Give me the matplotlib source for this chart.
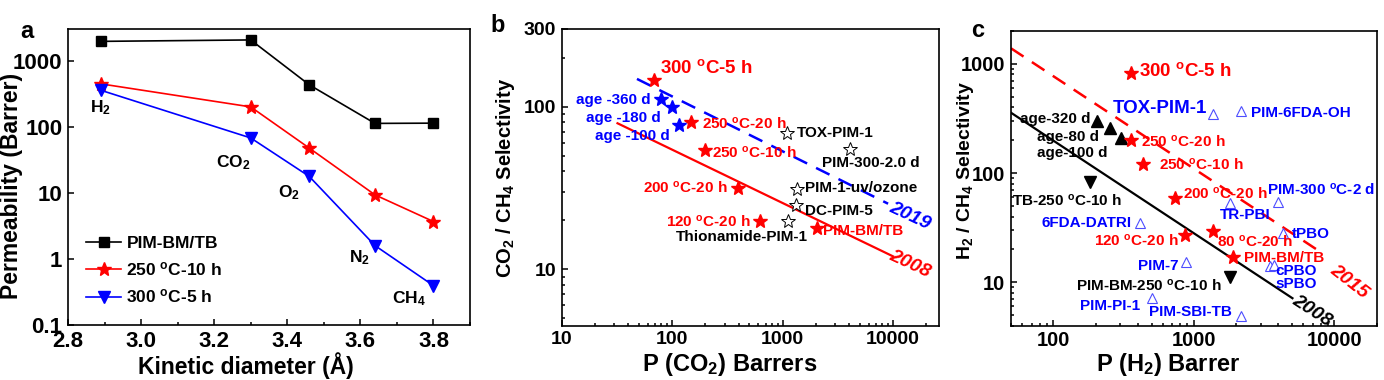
import matplotlib
matplotlib.use('Agg')
import matplotlib.pyplot as plt
from matplotlib.ticker import FixedLocator, LogLocator, FuncFormatter, NullFormatter, NullLocator, MultipleLocator

plt.rcParams['font.family'] = ['Liberation Sans', 'DejaVu Sans']
plt.rcParams['font.weight'] = 'bold'
plt.rcParams['mathtext.fontset'] = 'custom'
plt.rcParams['mathtext.rm'] = 'Liberation Sans:bold'
plt.rcParams['mathtext.it'] = 'Liberation Sans:bold:italic'
plt.rcParams['mathtext.bf'] = 'Liberation Sans:bold'
plt.rcParams['mathtext.default'] = 'regular'
plt.rcParams['axes.linewidth'] = 1.2

# ---------------- data: panel a ----------------
diam = [2.89, 3.30, 3.46, 3.64, 3.80]
gases = ['H$_2$', 'CO$_2$', 'O$_2$', 'N$_2$', 'CH$_4$']
perm_pristine = [1950, 2050, 430, 112, 113]
perm_250_10h = [444, 199, 47.5, 9.3, 3.67]
perm_300_5h = [355, 67.5, 17.7, 1.59, 0.394]
series_a_names = ['PIM-BM/TB', '250 $^{o}$C-10 h', '300 $^{o}$C-5 h']

# ---------------- data: panel b (CO2/CH4) ----------------
b_this_names = ['300 $^{o}$C-5 h', '250 $^{o}$C-20 h', '250 $^{o}$C-10 h',
                '200 $^{o}$C-20 h', '120 $^{o}$C-20 h', 'PIM-BM/TB']
b_this_P = [68, 148, 198, 392, 618, 2040]
b_this_S = [146, 80, 54.3, 31.8, 19.7, 17.9]
b_aged_names = ['age -360 d', 'age -180 d', 'age -100 d']
b_aged_P = [79, 100, 115]
b_aged_S = [111, 99, 77]
b_lit_names = ['TOX-PIM-1', 'PIM-300-2.0 d', 'PIM-1-uv/ozone', 'DC-PIM-5', 'Thionamide-PIM-1']
b_lit_P = [1104, 4060, 1355, 1310, 1126]
b_lit_S = [69.3, 54.8, 31.3, 24.9, 19.7]
b_ub2008_P = [32, 10000]
b_ub2008_S = [79, 12]
b_ub2019_P = [48, 9000]
b_ub2019_S = [148, 25.3]

# ---------------- data: panel c (H2/CH4) ----------------
c_this_names = ['300 $^{o}$C-5 h', '250 $^{o}$C-20 h', '250 $^{o}$C-10 h', '200 $^{o}$C-20 h',
                '120 $^{o}$C-20 h', '80 $^{o}$C-20 h', 'PIM-BM/TB']
c_this_P = [360, 360, 432, 732, 858, 1360, 1900]
c_this_S = [820, 199, 120, 58.5, 27, 29.6, 17.1]
c_aged_names = ['age-320 d', 'age-80 d', 'age-100 d']
c_aged_P = [205, 252, 305]
c_aged_S = [299, 260, 209]
c_tb_names = ['TB-250 $^{o}$C-10 h', 'PIM-BM-250 $^{o}$C-10 h']
c_tb_P = [181, 1800]
c_tb_S = [83, 11.2]
c_lit_names = ['TOX-PIM-1', 'PIM-6FDA-OH', 'PIM-300 $^{o}$C-2 d', 'TR-PBI', '6FDA-DATRI',
               'tPBO', 'PIM-7', 'cPBO', 'sPBO', 'PIM-PI-1', 'PIM-SBI-TB']
c_lit_P = [1360, 2160, 4000, 1815, 416, 4325, 885, 3490, 3720, 505, 2175]
c_lit_S = [349, 367, 53.8, 52.7, 35, 28.4, 15.4, 14.1, 14.4, 7.14, 4.95]
c_ub2008_P = [50, 5030]
c_ub2008_S = [357, 7.14]
c_ub2015_P = [50, 8400]
c_ub2015_S = [1388, 18.1]

RED = '#ff0000'
BLUE = '#0000ff'
LBLUE = '#4d4dff'

W, H = 1384, 380
fig = plt.figure(figsize=(W / 100, H / 100), dpi=100)


def px_axes(l, t, r, b):
    return fig.add_axes([l / W, 1 - b / H, (r - l) / W, (b - t) / H])


def style(ax, size=14):
    ax.tick_params(which='both', direction='in', top=False, right=False, width=1.1,
                   labelsize=size, pad=4)
    ax.tick_params(which='major', length=4.5)
    ax.tick_params(which='minor', length=2.5)
    for lab in ax.get_xticklabels() + ax.get_yticklabels():
        lab.set_fontweight('bold')


def txt(ax, x, y, s, color='black', ha='left', size=11, rot=0):
    ax.text(x, y, s, color=color, ha=ha, va='center', fontsize=size,
            fontweight='bold', rotation=rot)


def labels(ax, xl, yl, xsize, ysize, xpos, ypos):
    ax.set_xlabel(xl, fontsize=xsize, fontweight='bold')
    ax.set_ylabel(yl, fontsize=ysize, fontweight='bold')
    ax.xaxis.set_label_coords(*xpos)
    ax.yaxis.set_label_coords(*ypos)


gfmt = FuncFormatter(lambda v, p: '%g' % v)

# ================= panel a =================
axa = px_axes(68, 29, 470, 325)
axa.plot(diam, perm_pristine, '-s', color='black', lw=1.2, ms=7, label=series_a_names[0])
axa.plot(diam, perm_250_10h, '-*', color=RED, lw=1.2, ms=10, label=series_a_names[1])
axa.plot(diam, perm_300_5h, '-v', color=BLUE, lw=1.2, ms=8, label=series_a_names[2])
axa.set_yscale('log')
axa.set_xlim(2.8, 3.9)
axa.set_ylim(0.1, 3000)
axa.xaxis.set_major_locator(FixedLocator([2.8, 3.0, 3.2, 3.4, 3.6, 3.8]))
axa.xaxis.set_minor_locator(MultipleLocator(0.1))
axa.xaxis.set_major_formatter(FuncFormatter(lambda v, p: '%.1f' % v))
axa.yaxis.set_major_locator(FixedLocator([0.1, 1, 10, 100, 1000]))
axa.yaxis.set_minor_locator(NullLocator())
axa.yaxis.set_major_formatter(gfmt)
style(axa, 16)
labels(axa, 'Kinetic diameter (Å)', 'Permeability (Barrer)', 16.5, 16.5,
       (0.4415, -0.092), (-0.112, 0.47))
gas_label_pos = [(2.888, 194), (3.252, 28.5), (3.405, 10.0), (3.597, 1.03), (3.734, 0.25)]
for g, (gx, gy) in zip(gases, gas_label_pos):
    txt(axa, gx, gy, g, ha='center', size=12.5)
leg = axa.legend(loc='lower left', bbox_to_anchor=(0.02, 0.03), frameon=False, fontsize=12.5,
                 handlelength=2.0, handletextpad=0.3, labelspacing=0.55, borderaxespad=0.2)
for t in leg.get_texts():
    t.set_fontweight('bold')

# ================= panel b =================
axb = px_axes(561.7, 29, 939, 325.7)
axb.set_xscale('log')
axb.set_yscale('log')
axb.set_xlim(10, 26000)
axb.set_ylim(4.5, 300)
axb.plot(b_ub2008_P, b_ub2008_S, '-', color=RED, lw=1.6)
axb.plot(b_ub2019_P, b_ub2019_S, '--', color=BLUE, lw=1.8, dashes=(6, 4))
axb.plot(b_this_P, b_this_S, '*', color=RED, ms=10.5, ls='none')
axb.plot(b_aged_P, b_aged_S, '*', color=BLUE, ms=10.5, ls='none')
axb.plot(b_lit_P, b_lit_S, '*', mfc='white', mec='black', mew=0.7, ms=10.5, ls='none')
axb.xaxis.set_major_locator(FixedLocator([10, 100, 1000, 10000]))
axb.xaxis.set_minor_locator(LogLocator(base=10, subs=range(2, 10)))
axb.xaxis.set_minor_formatter(NullFormatter())
axb.xaxis.set_major_formatter(gfmt)
axb.yaxis.set_major_locator(FixedLocator([10, 100, 300]))
axb.yaxis.set_minor_locator(LogLocator(base=10, subs=range(2, 10)))
axb.yaxis.set_minor_formatter(NullFormatter())
axb.yaxis.set_major_formatter(gfmt)
style(axb, 14)
labels(axb, 'P (CO$_2$) Barrers', 'CO$_2$ / CH$_4$ Selectivity', 17, 14.5,
       (0.4447, -0.085), (-0.118, 0.498))

b_label_pos = {
    '300 $^{o}$C-5 h': (77.6, 172, 'left', 13.5),
    '250 $^{o}$C-20 h': (185, 78.3, 'left', 11),
    '250 $^{o}$C-10 h': (227, 52.2, 'left', 11),
    '200 $^{o}$C-20 h': (315, 31.6, 'right', 11),
    '120 $^{o}$C-20 h': (514, 19.7, 'right', 11),
    'PIM-BM/TB': (2338, 17.1, 'left', 11),
}
for n in b_this_names:
    x, y, ha, sz = b_label_pos[n]
    txt(axb, x, y, n, RED, ha, sz)
b_aged_pos = {'age -360 d': (63.4, 110), 'age -180 d': (78.2, 84.9), 'age -100 d': (96, 66.1)}
for n in b_aged_names:
    x, y = b_aged_pos[n]
    txt(axb, x, y, n, BLUE, 'right', 11)
b_lit_pos = {
    'TOX-PIM-1': (1337, 68.7, 'left'),
    'PIM-300-2.0 d': (2277, 45, 'left'),
    'PIM-1-uv/ozone': (1585, 31.6, 'left'),
    'DC-PIM-5': (1585, 22.7, 'left'),
    'Thionamide-PIM-1': (1675, 15.8, 'right'),
}
for n in b_lit_names:
    x, y, ha = b_lit_pos[n]
    txt(axb, x, y, n, 'black', ha, 11)
axb.text(14060, 10.7, '2008', color=RED, fontsize=14, fontweight='bold', style='italic',
         ha='center', va='center', rotation=-25)
axb.text(14060, 21.1, '2019', color=BLUE, fontsize=14, fontweight='bold', style='italic',
         ha='center', va='center', rotation=-25)

# ================= panel c =================
axc = px_axes(1011, 31, 1376.7, 325.7)
axc.set_xscale('log')
axc.set_yscale('log')
axc.set_xlim(50, 20000)
axc.set_ylim(4, 2000)
axc.plot(c_ub2008_P, c_ub2008_S, '-', color='black', lw=1.6)
axc.plot(c_ub2015_P, c_ub2015_S, '--', color=RED, lw=1.8, dashes=(6, 4))
axc.plot(c_lit_P, c_lit_S, '^', mfc='white', mec=LBLUE, mew=0.8, ms=7, ls='none')
axc.plot(c_aged_P, c_aged_S, '^', color='black', ms=8, ls='none')
axc.plot(c_tb_P, c_tb_S, 'v', color='black', ms=8, ls='none')
axc.plot(c_this_P, c_this_S, '*', color=RED, ms=10.5, ls='none')
axc.xaxis.set_major_locator(FixedLocator([100, 1000, 10000]))
axc.xaxis.set_minor_locator(LogLocator(base=10, subs=range(2, 10)))
axc.xaxis.set_minor_formatter(NullFormatter())
axc.xaxis.set_major_formatter(gfmt)
axc.yaxis.set_major_locator(FixedLocator([10, 100, 1000]))
axc.yaxis.set_minor_locator(LogLocator(base=10, subs=range(2, 10)))
axc.yaxis.set_minor_formatter(NullFormatter())
axc.yaxis.set_major_formatter(gfmt)
style(axc, 14.5)
labels(axc, 'P (H$_2$) Barrer', 'H$_2$ / CH$_4$ Selectivity', 17, 14,
       (0.429, -0.087), (-0.096, 0.525))

c_this_pos = {
    '300 $^{o}$C-5 h': (405, 869, 'left', 13.5),
    '250 $^{o}$C-20 h': (424, 196, 'left', 11),
    '250 $^{o}$C-10 h': (563, 120, 'left', 11),
    '200 $^{o}$C-20 h': (839, 65, 'left', 11),
    '120 $^{o}$C-20 h': (782, 24.3, 'right', 11),
    '80 $^{o}$C-20 h': (1452, 23.5, 'left', 11),
    'PIM-BM/TB': (2272, 16.8, 'left', 11),
}
for n in c_this_names:
    x, y, ha, sz = c_this_pos[n]
    txt(axc, x, y, n, RED, ha, sz)
c_aged_pos = {'age-320 d': (184, 315), 'age-80 d': (210, 214), 'age-100 d': (244, 153)}
for n in c_aged_names:
    x, y = c_aged_pos[n]
    txt(axc, x, y, n, 'black', 'right', 11)
c_tb_pos = {'TB-250 $^{o}$C-10 h': (50.7, 56.4, 'left'),
            'PIM-BM-250 $^{o}$C-10 h': (1566, 9.3, 'right')}
for n in c_tb_names:
    x, y, ha = c_tb_pos[n]
    txt(axc, x, y, n, 'black', ha, 11)
c_lit_pos = {
    'TOX-PIM-1': (1244, 388, 'right', 13.5),
    'PIM-6FDA-OH': (2535, 354, 'left', 11),
    'PIM-300 $^{o}$C-2 d': (3330, 71, 'left', 11),
    'TR-PBI': (1532, 41.2, 'left', 11),
    '6FDA-DATRI': (360, 34.6, 'right', 11),
    'tPBO': (4970, 27.4, 'left', 11),
    'PIM-7': (782, 14.2, 'right', 11),
    'cPBO': (3820, 12.7, 'left', 11),
    'sPBO': (3820, 9.6, 'left', 11),
    'PIM-PI-1': (417, 6.0, 'right', 11),
    'PIM-SBI-TB': (477, 5.3, 'left', 11),
}
for n in c_lit_names:
    x, y, ha, sz = c_lit_pos[n]
    txt(axc, x, y, n, BLUE, ha, sz)
axc.text(6930, 5.4, '2008', color='black', fontsize=14, fontweight='bold', style='italic',
         ha='center', va='center', rotation=-33)
axc.text(12700, 10.1, '2015', color=RED, fontsize=14, fontweight='bold', style='italic',
         ha='center', va='center', rotation=-38)

# panel letters
for lx, ly, s in [(26.7, 31.7, 'a'), (498, 25, 'b'), (978, 30.7, 'c')]:
    fig.text(lx / W, 1 - ly / H, s, fontsize=17, fontweight='bold', ha='center', va='center')

fig.savefig('out.png', dpi=100)
